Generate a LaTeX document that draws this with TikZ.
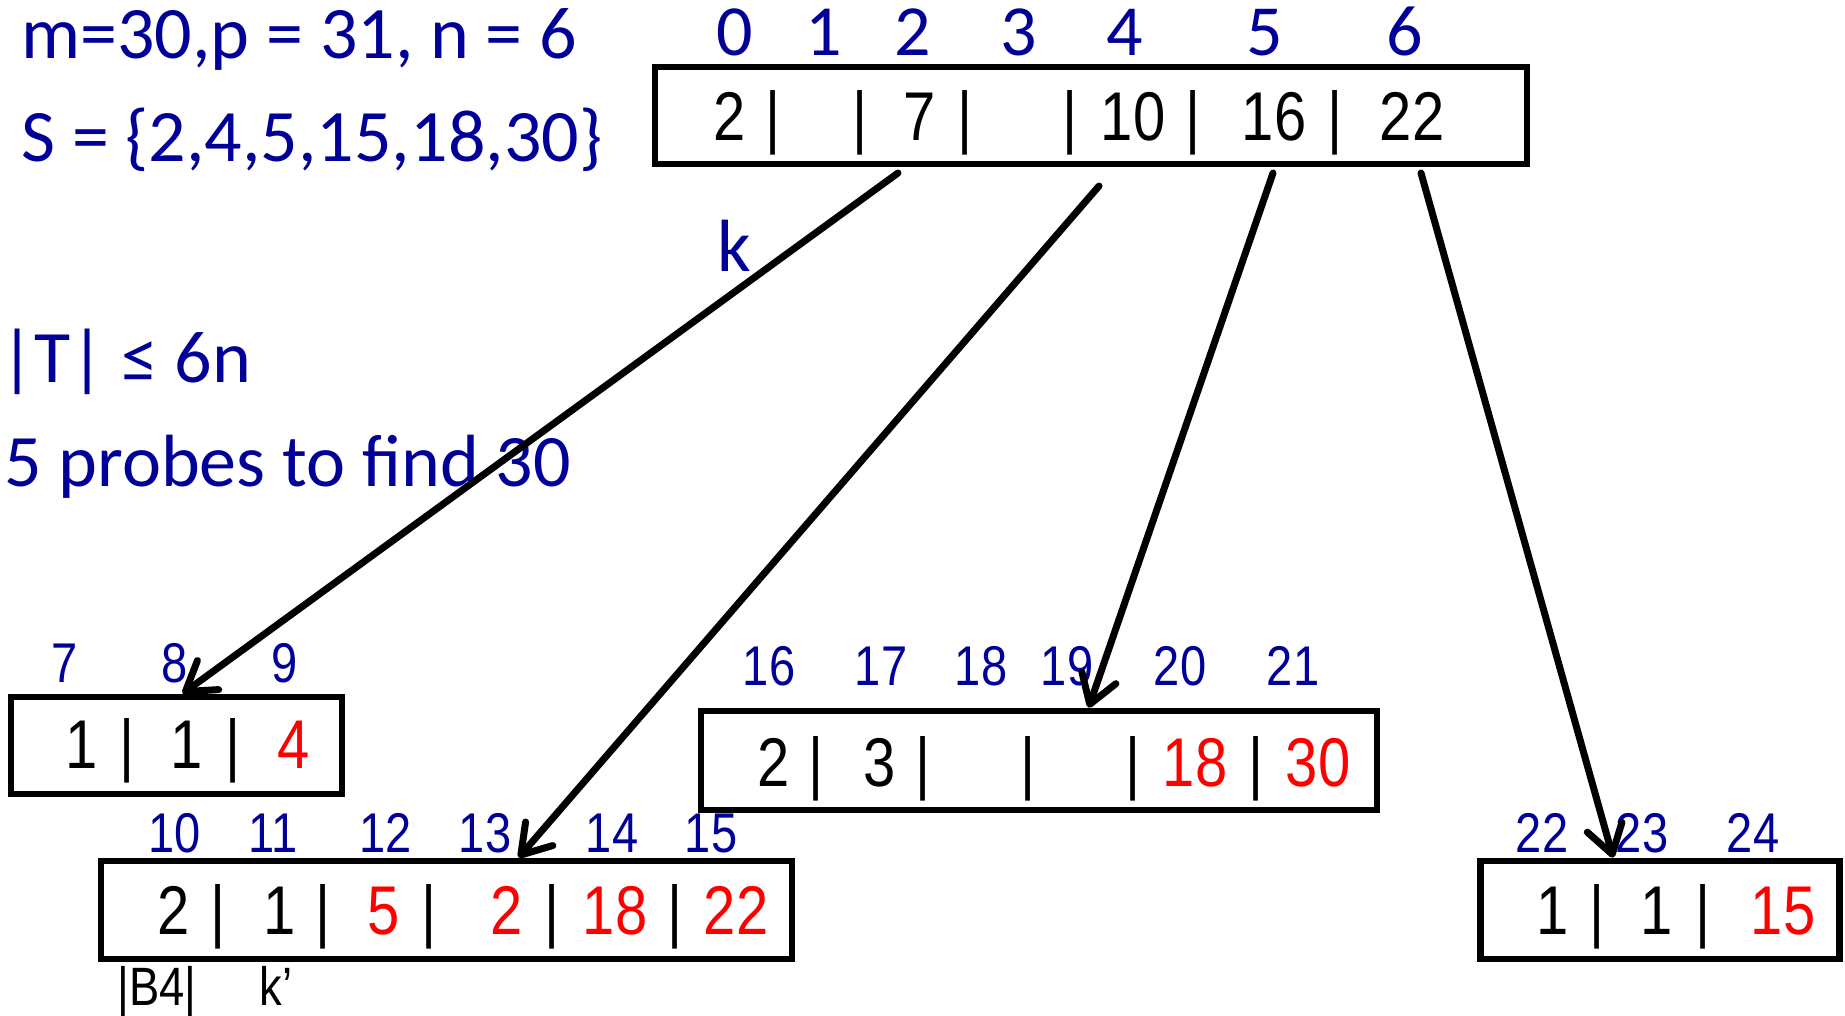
\documentclass[tikz,border=0pt]{standalone}
\usepackage{fontspec}
\setmainfont{Carlito}
\newfontfamily\narrowf[FakeStretch=0.84]{Liberation Sans}
\usetikzlibrary{arrows.meta,calc}
\definecolor{idxblue}{RGB}{0,0,153}
\definecolor{hotred}{RGB}{255,0,0}
\begin{document}
\begin{tikzpicture}[x=0.5pt,y=-0.5pt,
  cell/.style={inner sep=0pt, anchor=base, font=\narrowf\fontsize{34.5}{34.5}\selectfont},
  idx/.style={inner sep=0pt, anchor=base, text=idxblue, font=\narrowf\fontsize{28}{28}\selectfont},
  topidx/.style={inner sep=0pt, anchor=base, text=idxblue, font=\fontsize{36}{36}\selectfont},
  note/.style={inner sep=0pt, anchor=base west, text=idxblue, font=\fontsize{37}{37}\selectfont},
  smalllab/.style={inner sep=0pt, anchor=base, font=\narrowf\fontsize{27}{27}\selectfont},
  arr/.style={line width=3.5pt, line cap=round, -{Straight Barb[length=14pt,width=18pt,line width=3.5pt,round]}},
  frame/.style={draw, line width=3.4pt, inner sep=0pt}]
\useasboundingbox (0,0) rectangle (1845,1016);

% left notes
\node[note] (t1) at (21,59) {m=30,p = 31, n = 6};
\node[note] (t2) at (21,162) {S = \{2,4,5,15,18,30\}};
\node[note] (t3) at (0,382) {|T| ≤ 6n};
\node[note] (t4) at (4,486) {5 probes to find 30};
\node[note] (tk) at (717,271) {k};

% boxes
\node[frame, minimum width=436pt, minimum height=48.5pt] (boxA) at (1091,115.5) {};
\node[frame, minimum width=165.5pt, minimum height=48.5pt] (boxB) at (176.5,745.5) {};
\node[frame, minimum width=338pt, minimum height=49.5pt] (boxC) at (1039,760.5) {};
\node[frame, minimum width=345.5pt, minimum height=49pt] (boxD) at (446.5,910) {};
\node[frame, minimum width=179.5pt, minimum height=49pt] (boxE) at (1660,910) {};

% top box
\foreach \x/\t [count=\i] in {735/0,824/1,913/2,1019/3,1125/4,1265/5,1405/6}
  \node[topidx] (ia\i) at (\x,56) {\t};
\foreach \x/\t [count=\i] in {730/2,773/|,860/|,920/7,965/|,1070/|,1133/10,1193/|,1274/16,1335/|,1412/22}
  \node[cell] (ca\i) at (\x,141) {\t};

% box B
\foreach \x/\t [count=\i] in {65/7,175/8,285/9}
  \node[idx] (ib\i) at (\x,682) {\t};
\foreach \x/\t/\c [count=\i] in {82/1/black,127/|/black,187/1/black,233/|/black,294/4/hotred}
  \node[cell, text=\c] (cb\i) at (\x,768) {\t};

% box C
\foreach \x/\t [count=\i] in {769/16,881/17,981/18,1067/19,1180/20,1293/21}
  \node[idx] (ic\i) at (\x,685) {\t};
\foreach \x/\t/\c [count=\i] in {774/2/black,816/|/black,880/3/black,923/|/black,1028/|/black,1133/|/black,1195/18/hotred,1256/|/black,1318/30/hotred}
  \node[cell, text=\c] (cc\i) at (\x,786) {\t};

% box D
\foreach \x/\t [count=\i] in {175/10,273/11,386/12,485/13,612/14,711/15}
  \node[idx] (id\i) at (\x,852) {\t};
\foreach \x/\t/\c [count=\i] in {174/2/black,218/|/black,280/1/black,323/|/black,384/5/hotred,429/|/black,507/2/hotred,552/|/black,615/18/hotred,675/|/black,736/22/hotred}
  \node[cell, text=\c] (cd\i) at (\x,934) {\t};
\node[smalllab] (b4) at (157,1005) {|B4|};
\node[smalllab] (kp) at (276,1005) {k’};

% box E
\foreach \x/\t [count=\i] in {1542/22,1642/23,1753/24}
  \node[idx] (ie\i) at (\x,852) {\t};
\foreach \x/\t/\c [count=\i] in {1553/1/black,1597/|/black,1657/1/black,1703/|/black,1783/15/hotred}
  \node[cell, text=\c] (ce\i) at (\x,934) {\t};

% arrows
\coordinate (s1) at (898,173);
\coordinate (s2) at (1099,186);
\coordinate (s3) at (1273,173);
\coordinate (s4) at (1421,173);
\draw[arr] (s1) -- ($(boxB.north west)+(175,0)$);
\draw[arr] (s2) -- ($(boxD.north west)+(421,0)$);
\draw[arr] (s3) -- ($(boxC.north west)+(391,0)$);
\draw[arr] (s4) -- ($(boxE.north west)+(136,0)$);
\end{tikzpicture}
\end{document}
